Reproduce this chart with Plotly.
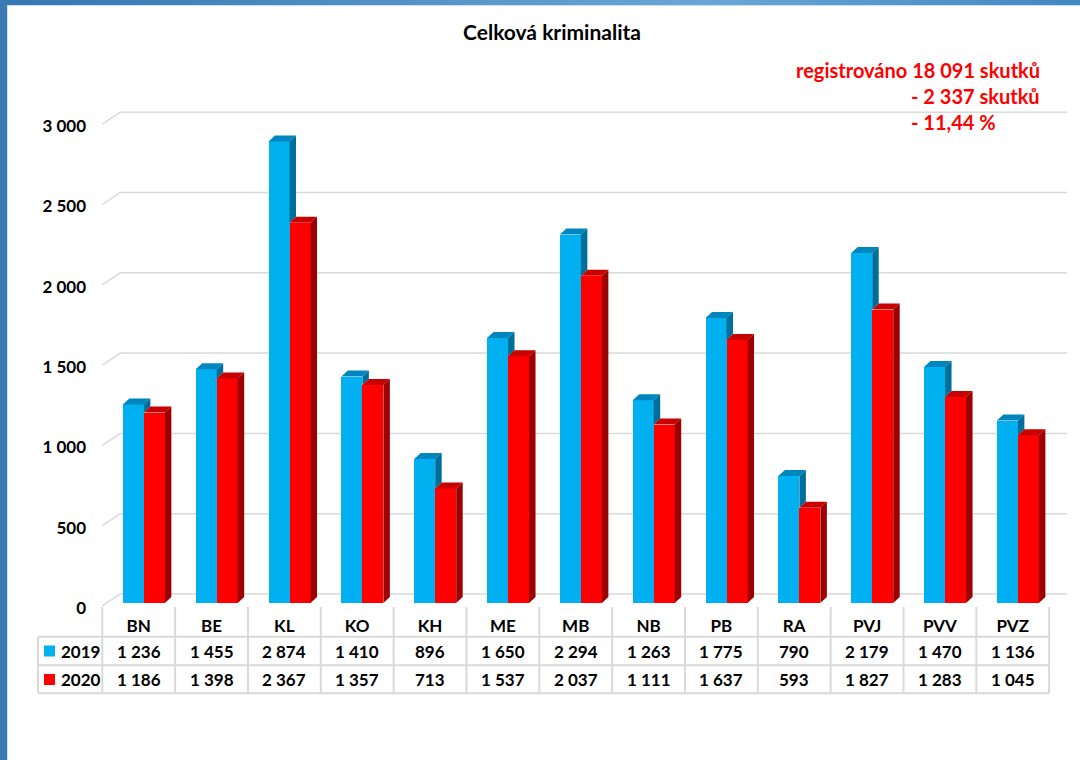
import plotly.graph_objects as go

categories = ["BN", "BE", "KL", "KO", "KH", "ME", "MB", "NB", "PB", "RA", "PVJ", "PVV", "PVZ"]
values_2019 = [1236, 1455, 2874, 1410, 896, 1650, 2294, 1263, 1775, 790, 2179, 1470, 1136]
values_2020 = [1186, 1398, 2367, 1357, 713, 1537, 2037, 1111, 1637, 593, 1827, 1283, 1045]
years = ["2019", "2020"]
y_ticks = [0, 500, 1000, 1500, 2000, 2500, 3000]
title_text = "Celková kriminalita"
summary_lines = ["registrováno 18 091 skutků", "- 2 337 skutků", "- 11,44 %"]

FONT = "Lato"
BLUE, BLUE_TOP, BLUE_SIDE = "#00B0F0", "#0086BE", "#006E9A"
RED, RED_TOP, RED_SIDE = "#FF0000", "#C80000", "#9C0000"
GRID = "#D9D9D9"

# page geometry (pixels)
W, H = 1080, 760
ML, MR, MT, MB = 95, 9, 65, 149
X_RANGE = [-0.6, 12.8]
Y_RANGE = [-50, 3350]
plot_w = W - ML - MR
plot_h = H - MT - MB
ux = plot_w / (X_RANGE[1] - X_RANGE[0])      # px per category
uy = (Y_RANGE[1] - Y_RANGE[0]) / plot_h      # value units per px


def paper_x(px):
    return (px - ML) / plot_w


def paper_y(py):
    return (H - MB - py) / plot_h


def fmt(v):
    return f"{v:,}".replace(",", " ")


BAR_W = 21 / ux
OFF_2019 = -15.85 / ux
OFF_2020 = OFF_2019 + BAR_W
DX = 6.5 / ux
DY = 6 * uy

x = list(range(len(categories)))

fig = go.Figure()
fig.add_trace(go.Bar(x=x, y=values_2019, name=years[0], width=BAR_W, offset=OFF_2019,
                     marker=dict(color=BLUE, line=dict(width=0))))
fig.add_trace(go.Bar(x=x, y=values_2020, name=years[1], width=BAR_W, offset=OFF_2020,
                     marker=dict(color=RED, line=dict(width=0))))

shapes = []

# back-wall gridlines with the little perspective diagonal
for t in y_ticks:
    front = t - 3 * uy
    back = t + 9 * uy
    x0 = -0.5
    x1 = -0.5 + 18 / ux
    x2 = len(categories) - 0.5 + 18 / ux
    shapes.append(dict(type="path", xref="x", yref="y", layer="below",
                       path=f"M {x0},{front} L {x1},{back} L {x2},{back}",
                       line=dict(color=GRID, width=1.5)))

# 3D tops and sides of the bars
for i in x:
    b, r = values_2019[i], values_2020[i]
    bl = i + OFF_2019
    br = bl + BAR_W
    rl = i + OFF_2020
    rr = rl + BAR_W
    shapes.append(dict(type="path", xref="x", yref="y", layer="above", line=dict(width=0),
                       fillcolor=BLUE_TOP,
                       path=f"M {bl},{b} L {bl + DX},{b + DY} L {br + DX},{b + DY} L {br},{b} Z"))
    if r < b:
        shapes.append(dict(type="path", xref="x", yref="y", layer="above", line=dict(width=0),
                           fillcolor=BLUE_SIDE,
                           path=f"M {br},{b} L {br + DX},{b + DY} L {br + DX},{r + DY} L {br},{r} Z"))
    shapes.append(dict(type="path", xref="x", yref="y", layer="above", line=dict(width=0),
                       fillcolor=RED_TOP,
                       path=f"M {rl},{r} L {rl + DX},{r + DY} L {rr + DX},{r + DY} L {rr},{r} Z"))
    shapes.append(dict(type="path", xref="x", yref="y", layer="above", line=dict(width=0),
                       fillcolor=RED_SIDE,
                       path=f"M {rr},{r} L {rr + DX},{r + DY} L {rr + DX},{DY} L {rr},0 Z"))

# data table grid
row_top, row1, row2, row_bot = 607, 636.7, 665.3, 693.3
n = len(categories)
for j in range(n + 1):
    shapes.append(dict(type="line", xref="x", yref="paper", x0=j - 0.5, x1=j - 0.5,
                       y0=paper_y(row_top), y1=paper_y(row_bot), line=dict(color=GRID, width=2)))
shapes.append(dict(type="line", xref="paper", yref="paper", x0=paper_x(38), x1=paper_x(38),
                   y0=paper_y(row1), y1=paper_y(row_bot), line=dict(color=GRID, width=2)))
for ry in (row1, row2, row_bot):
    shapes.append(dict(type="line", xref="paper", yref="paper", x0=paper_x(38), x1=paper_x(ML + 0.1 * ux),
                       y0=paper_y(ry), y1=paper_y(ry), line=dict(color=GRID, width=2)))
    shapes.append(dict(type="line", xref="x", yref="paper", x0=-0.5, x1=n - 0.5,
                       y0=paper_y(ry), y1=paper_y(ry), line=dict(color=GRID, width=2)))

# legend keys in the table
for ry, col in ((651, BLUE), (679.5, RED)):
    shapes.append(dict(type="rect", xref="paper", yref="paper", line=dict(width=0), fillcolor=col,
                       x0=paper_x(44), x1=paper_x(55), y0=paper_y(ry - 5.5), y1=paper_y(ry + 5.5)))

# window frame: top gradient strip and left strip
stops = [(0, (0x34, 0x77, 0xB2)), (700, (0x6A, 0xA7, 0xD7)), (1080, (0x3F, 0x88, 0xC5))]
step = 10
for px in range(0, W, step):
    c = stops[-1][1]
    for (a, ca), (b2, cb) in zip(stops[:-1], stops[1:]):
        if a <= px < b2:
            f = (px - a) / (b2 - a)
            c = tuple(round(ca[k] + (cb[k] - ca[k]) * f) for k in range(3))
            break
    shapes.append(dict(type="rect", xref="paper", yref="paper", line=dict(width=0),
                       fillcolor="rgb(%d,%d,%d)" % c,
                       x0=paper_x(px), x1=paper_x(px + step + 0.5), y0=paper_y(-1), y1=paper_y(5)))
shapes.append(dict(type="line", xref="paper", yref="paper", line=dict(color="#D5DDE6", width=1),
                   x0=paper_x(7), x1=paper_x(W), y0=paper_y(5.5), y1=paper_y(5.5)))
shapes.append(dict(type="rect", xref="paper", yref="paper", line=dict(width=0), fillcolor="#3A7BB6",
                   x0=paper_x(-1), x1=paper_x(7), y0=paper_y(-1), y1=paper_y(H + 1)))
shapes.append(dict(type="line", xref="paper", yref="paper", line=dict(color="#D5DDE6", width=1),
                   x0=paper_x(7.5), x1=paper_x(7.5), y0=paper_y(5), y1=paper_y(H)))

annotations = []
for i in x:
    for ry, vals in ((651, values_2019), (679.5, values_2020)):
        annotations.append(dict(x=i, xref="x", y=paper_y(ry), yref="paper", text=fmt(vals[i]),
                                showarrow=False, xanchor="center", yanchor="middle",
                                font=dict(family=FONT, size=17, color="black", weight="bold")))
for ry, yr in ((651, years[0]), (679.5, years[1])):
    annotations.append(dict(x=paper_x(59), xref="paper", y=paper_y(ry), yref="paper", text=yr,
                            showarrow=False, xanchor="left", yanchor="middle",
                            font=dict(family=FONT, size=17, color="black", weight="bold")))

red_font = dict(family=FONT, size=20, color="#FF0000", weight="bold")
annotations.append(dict(x=paper_x(1042), xref="paper", y=paper_y(70), yref="paper", text=summary_lines[0],
                        showarrow=False, xanchor="right", yanchor="middle", font=red_font))
annotations.append(dict(x=paper_x(909), xref="paper", y=paper_y(96), yref="paper", text=summary_lines[1],
                        showarrow=False, xanchor="left", yanchor="middle", font=red_font))
annotations.append(dict(x=paper_x(909), xref="paper", y=paper_y(122), yref="paper", text=summary_lines[2],
                        showarrow=False, xanchor="left", yanchor="middle", font=red_font))

fig.update_layout(
    width=W, height=H, autosize=False,
    margin=dict(l=ML, r=MR, t=MT, b=MB, pad=0),
    paper_bgcolor="white", plot_bgcolor="white",
    barmode="overlay", bargap=0, showlegend=False,
    title=dict(text=title_text, x=552 / W, xref="container", xanchor="center",
               y=1 - 33 / H, yref="container", yanchor="middle",
               font=dict(family=FONT, size=21, color="black", weight="bold")),
    xaxis=dict(range=X_RANGE, tickvals=x, ticktext=categories, showgrid=False, zeroline=False,
               showline=False, ticks="", ticklabelstandoff=3,
               tickfont=dict(family=FONT, size=17, color="black", weight="bold")),
    yaxis=dict(range=Y_RANGE, tickvals=y_ticks, ticktext=[fmt(t) for t in y_ticks],
               showgrid=False, zeroline=False, showline=False, ticks="",
               ticklabelstandoff=8, ticklabelshift=5,
               tickfont=dict(family=FONT, size=17, color="black", weight="bold")),
    shapes=shapes,
    annotations=annotations,
)

fig.write_html("out.html", config={"displayModeBar": False},
               post_script="document.body.style.margin='0';")
